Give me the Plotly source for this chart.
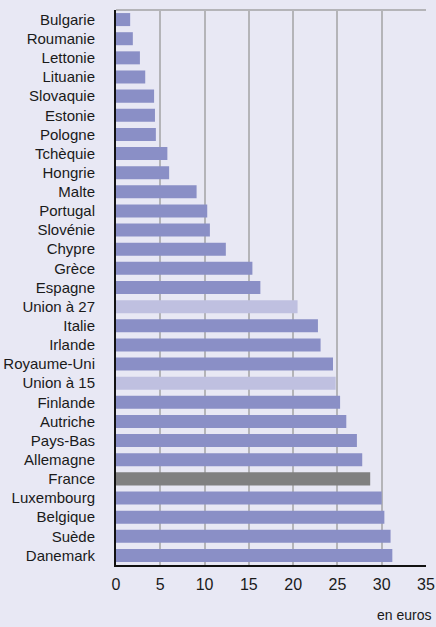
import plotly.graph_objects as go

categories = ["Bulgarie", "Roumanie", "Lettonie", "Lituanie", "Slovaquie", "Estonie",
              "Pologne", "Tchèquie", "Hongrie", "Malte", "Portugal", "Slovénie", "Chypre",
              "Grèce", "Espagne", "Union à 27", "Italie", "Irlande", "Royaume-Uni",
              "Union à 15", "Finlande", "Autriche", "Pays-Bas", "Allemagne", "France",
              "Luxembourg", "Belgique", "Suède", "Danemark"]
values = [1.6, 1.9, 2.7, 3.3, 4.3, 4.4, 4.5, 5.8, 6.0, 9.1, 10.3, 10.6, 12.4,
          15.4, 16.3, 20.5, 22.8, 23.1, 24.5, 24.8, 25.3, 26.0, 27.2, 27.8, 28.7,
          30.0, 30.3, 31.0, 31.2]
x_ticks = [0, 5, 10, 15, 20, 25, 30, 35]

C_MAIN = "#8a8fc6"
C_EU = "#bfc0e0"
C_FR = "#808080"
colors = []
for c in categories:
    if c.startswith("Union"):
        colors.append(C_EU)
    elif c == "France":
        colors.append(C_FR)
    else:
        colors.append(C_MAIN)

FONT = "Liberation Sans, Arial, sans-serif"
BG = "#e8e8f4"

fig = go.Figure(go.Bar(
    x=values, y=categories, orientation="h",
    marker=dict(color=colors, line=dict(width=0)),
    width=0.68,
    hoverinfo="x+y",
))

fig.update_layout(
    width=436, height=627,
    margin=dict(l=116, r=10, t=10, b=62),
    paper_bgcolor=BG, plot_bgcolor=BG,
    font=dict(family=FONT, size=15, color="#1a1a1a"),
    showlegend=False,
    xaxis=dict(
        range=[0, 35], tickvals=x_ticks, ticktext=[str(t) for t in x_ticks],
        showgrid=True, gridcolor="#b4b4b8", gridwidth=2,
        zeroline=False, showline=True, linecolor="#111111", linewidth=2,
        ticks="", tickfont=dict(size=16), ticklabelstandoff=4,
        automargin=False, fixedrange=True,
    ),
    yaxis=dict(
        categoryorder="array", categoryarray=categories,
        range=[len(categories) - 0.5, -0.5],
        showgrid=False, zeroline=False,
        showline=True, linecolor="#111111", linewidth=2,
        ticks="", tickfont=dict(size=15), ticklabelstandoff=16,
        automargin=False, fixedrange=True,
    ),
    shapes=[dict(type="line", xref="paper", yref="paper", x0=0, x1=1, y0=1, y1=1,
                 line=dict(color="#b4b4b8", width=2))],
    annotations=[dict(text="en euros", xref="paper", yref="paper", x=1.0226, y=-0.09,
                      xanchor="right", yanchor="middle", showarrow=False,
                      font=dict(size=14, family=FONT, color="#1a1a1a"))],
)

fig.write_html(
    "out.html",
    config={"displayModeBar": False},
    post_script="document.body.style.margin='0';document.body.style.background='#e8e8f4';",
)
